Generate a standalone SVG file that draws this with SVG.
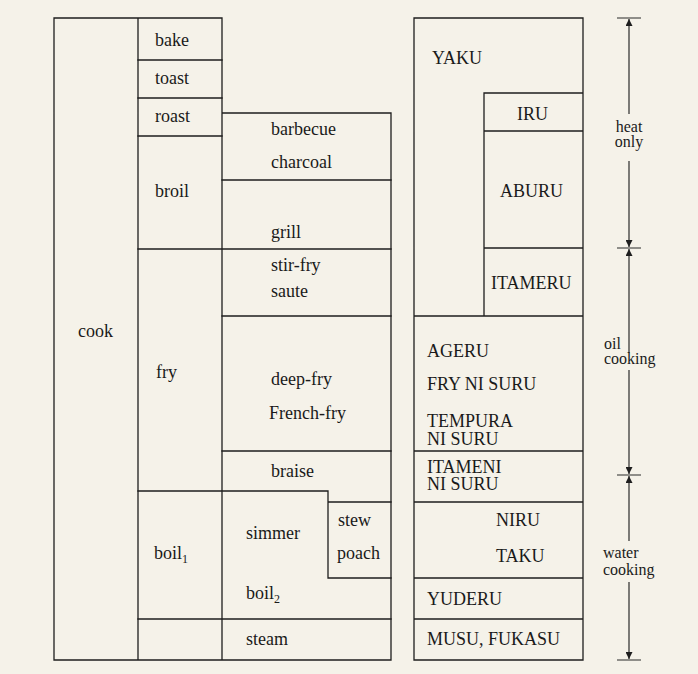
<svg xmlns="http://www.w3.org/2000/svg" width="698" height="674" viewBox="0 0 698 674">
<style>
.ln{fill:none;stroke:#1e1e1e;stroke-width:1.3;stroke-linecap:square}
.t{font-family:"Liberation Serif","Times New Roman",serif;font-size:18px;fill:#1a1a1a}
.s{font-family:"Liberation Serif","Times New Roman",serif;font-size:16px;fill:#1a1a1a}
.sub{font-size:12px}
.dim{fill:none;stroke:#2a2a2a;stroke-width:1.2}
</style>
<defs>
<marker id="ah" viewBox="0 0 10 10" refX="10" refY="5" markerWidth="10" markerHeight="7" markerUnits="userSpaceOnUse" orient="auto-start-reverse">
<path d="M0,0 L10,5 L0,10 Z" fill="#1e1e1e"/>
</marker>
</defs>
<rect x="0" y="0" width="698" height="674" fill="#f5f2e9"/>

<g id="grid-left">
<path class="ln" d="M54,18 H222 M54,18 V660 H391 V113 H222 M138,18 V660 M222,18 V660"/>
<path class="ln" d="M138,60 H222 M138,98 H222 M138,136 H222 M222,180 H391 M138,249 H391 M222,316 H391 M222,451 H391 M138,491 H328 V502 H391 M328,502 V578 H391 M138,619 H391"/>
</g>
<g id="grid-right">
<path class="ln" d="M414,18 H583 V660 H414 Z M484,316 V93 H583 M484,131 H583 M484,248 H583 M414,316 H583 M414,451 H583 M414,502 H583 M414,578 H583 M414,619 H583"/>
</g>

<g id="cook"><text class="t" x="78" y="337">cook</text></g>
<g id="bake"><text class="t" x="155" y="46">bake</text></g>
<g id="toast"><text class="t" x="155" y="84">toast</text></g>
<g id="roast"><text class="t" x="155" y="122">roast</text></g>
<g id="broil"><text class="t" x="155" y="197">broil</text></g>
<g id="fry"><text class="t" x="156" y="378">fry</text></g>
<g id="boil1"><text class="t" x="154" y="559">boil<tspan class="sub" dy="4">1</tspan></text></g>
<g id="barbecue"><text class="t" x="271" y="135">barbecue</text></g>
<g id="charcoal"><text class="t" x="271" y="168">charcoal</text></g>
<g id="grill"><text class="t" x="271" y="238">grill</text></g>
<g id="stir-fry-saute"><text class="t" x="271" y="271">stir-fry</text><text class="t" x="271" y="297">saute</text></g>
<g id="deep-fry"><text class="t" x="271" y="385">deep-fry</text><text class="t" x="269" y="419">French-fry</text></g>
<g id="braise"><text class="t" x="271" y="477">braise</text></g>
<g id="simmer"><text class="t" x="246" y="539">simmer</text></g>
<g id="stew-poach"><text class="t" x="338" y="526">stew</text><text class="t" x="337" y="559">poach</text></g>
<g id="boil2"><text class="t" x="246" y="599">boil<tspan class="sub" dy="4">2</tspan></text></g>
<g id="steam"><text class="t" x="246" y="645">steam</text></g>

<g id="yaku"><text class="t" x="432" y="64">YAKU</text></g>
<g id="iru"><text class="t" x="517" y="120">IRU</text></g>
<g id="aburu"><text class="t" x="500" y="197">ABURU</text></g>
<g id="itameru"><text class="t" x="491" y="289">ITAMERU</text></g>
<g id="ageru"><text class="t" x="427" y="357">AGERU</text><text class="t" x="427" y="390">FRY NI SURU</text><text class="t" x="427" y="427">TEMPURA</text><text class="t" x="427" y="445">NI SURU</text></g>
<g id="itameni"><text class="t" x="427" y="473">ITAMENI</text><text class="t" x="427" y="490">NI SURU</text></g>
<g id="niru"><text class="t" x="496" y="526">NIRU</text><text class="t" x="496" y="562">TAKU</text></g>
<g id="yuderu"><text class="t" x="427" y="605">YUDERU</text></g>
<g id="musu"><text class="t" x="427" y="645">MUSU, FUKASU</text></g>

<g id="connectors">
<path class="dim" d="M617,18 H641 M617,248 H641 M617,475 H641 M617,660 H641"/>
<path class="dim" d="M629,114 V19" marker-end="url(#ah)"/>
<path class="dim" d="M629,161 V247" marker-end="url(#ah)"/>
<path class="dim" d="M629,353 V249" marker-end="url(#ah)"/>
<path class="dim" d="M629,370 V474" marker-end="url(#ah)"/>
<path class="dim" d="M629,541 V476" marker-end="url(#ah)"/>
<path class="dim" d="M629,582 V659" marker-end="url(#ah)"/>
</g>
<g id="dim-labels">
<text class="s" x="629" y="132" text-anchor="middle">heat</text>
<text class="s" x="629" y="147" text-anchor="middle">only</text>
<text class="s" x="604" y="349">oil</text>
<text class="s" x="604" y="364">cooking</text>
<text class="s" x="603" y="558">water</text>
<text class="s" x="603" y="575">cooking</text>
</g>
</svg>
